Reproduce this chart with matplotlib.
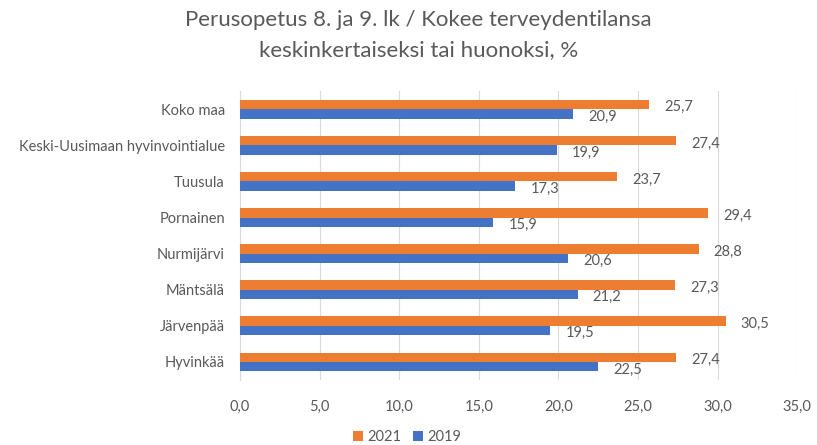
import matplotlib.pyplot as plt
import numpy as np

plt.rcParams['font.family'] = ['Lato', 'DejaVu Sans']

areas = ['Koko maa', 'Keski-Uusimaan hyvinvointialue', 'Tuusula', 'Pornainen',
         'Nurmijärvi', 'Mäntsälä', 'Järvenpää', 'Hyvinkää']
v2021 = [25.7, 27.4, 23.7, 29.4, 28.8, 27.3, 30.5, 27.4]
v2019 = [20.9, 19.9, 17.3, 15.9, 20.6, 21.2, 19.5, 22.5]
xticks = [0, 5, 10, 15, 20, 25, 30, 35]

txt = '#595959'
orange = '#ED7D31'
blue = '#4472C4'

fig = plt.figure(figsize=(8.17, 4.45), dpi=100)
ax = fig.add_axes([0.2938, 0.146, 0.682, 0.649])

y = np.arange(len(areas))
h = 0.26
b1 = ax.barh(y - h / 2, v2021, height=h, color=orange, label='2021', zorder=3)
b2 = ax.barh(y + h / 2, v2019, height=h, color=blue, label='2019', zorder=3)

for bars, vals in ((b1, v2021), (b2, v2019)):
    for bar, v in zip(bars, vals):
        ax.annotate(f'{v:.1f}'.replace('.', ','),
                    (v, bar.get_y() + bar.get_height() / 2),
                    xytext=(11, -2), textcoords='offset points',
                    va='center', ha='left', fontsize=10.5, color=txt)

ax.set_ylim(len(areas) - 0.5, -0.5)
ax.set_xlim(0, 35)
ax.set_xticks(xticks)
ax.set_xticklabels([f'{t:.1f}'.replace('.', ',') for t in xticks], color=txt, fontsize=10.5)
ax.set_yticks(y)
ax.set_yticklabels(areas, color=txt, fontsize=10.5)
ax.tick_params(axis='x', length=0, pad=14)
ax.tick_params(axis='y', length=0, pad=11)
ax.grid(axis='x', color='#D9D9D9', linewidth=0.8, zorder=0)
for s in ['top', 'right', 'bottom']:
    ax.spines[s].set_visible(False)
ax.spines['left'].set_color('#D9D9D9')

fig.text(0.512, 0.978, 'Perusopetus 8. ja 9. lk / Kokee terveydentilansa\nkeskinkertaiseksi tai huonoksi, %',
         ha='center', va='top', fontsize=16, color=txt, linespacing=1.65)

fig.legend(handles=[b1, b2], loc='center', bbox_to_anchor=(0.498, 0.018), ncol=2,
           frameon=False, fontsize=10.5, labelcolor=txt, handlelength=0.7,
           handleheight=0.7, handletextpad=0.3, columnspacing=0.8)

fig.savefig('out.png', dpi=100)
